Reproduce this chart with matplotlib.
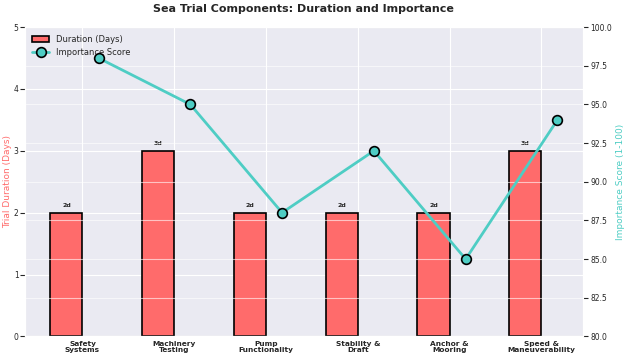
import matplotlib.pyplot as plt
import seaborn as sns
import numpy as np

sns.set_style("darkgrid")

# components and values
components = ['Safety\nSystems', 'Machinery\nTesting', 'Pump\nFunctionality',
              'Stability &\nDraft', 'Anchor &\nMooring', 'Speed &\nManeuverability']
duration = [2, 3, 2, 2, 2, 3]
importance = [98, 95, 88, 92, 85, 94]

x = np.arange(len(components))
width = 0.35

fig, ax1 = plt.subplots(figsize=(6.24, 3.61), dpi=100)
bars = ax1.bar(x - width / 2, duration, width, color='#FF6B6B',
               edgecolor='black', linewidth=1.2, label='Duration (Days)')
for b, d in zip(bars, duration):
    ax1.text(b.get_x() + b.get_width() / 2, d + 0.08, f'{d}d',
             ha='center', va='bottom', fontsize=4.5, fontweight='bold')
ax1.set_ylim(0, 5)
ax1.set_ylabel('Trial Duration (Days)', color='#FF6B6B', fontsize=6.5, labelpad=1)
ax1.set_xticks(x)
ax1.set_xticklabels(components, fontsize=5.3, fontweight='bold', linespacing=1.0)
ax1.tick_params(axis='y', labelsize=5.5, pad=1)
ax1.tick_params(axis='x', pad=0)

ax2 = ax1.twinx()
line, = ax2.plot(x + width / 2, importance, color='#4ECDC4', linewidth=2,
                 marker='o', markersize=7, markeredgecolor='black',
                 markeredgewidth=1.2, label='Importance Score')
ax2.set_ylim(80, 100)
ax2.set_ylabel('Importance Score (1-100)', color='#4ECDC4', fontsize=6.5, labelpad=3)
ax2.tick_params(axis='y', labelsize=5.5, pad=2)
ax2.grid(True, alpha=0.6)

ax1.legend([bars, line], ['Duration (Days)', 'Importance Score'],
           loc='upper left', fontsize=6, frameon=False)
ax1.set_title('Sea Trial Components: Duration and Importance',
              fontsize=8, fontweight='bold', pad=11)

plt.subplots_adjust(left=0.04, right=0.934, top=0.925, bottom=0.068)
plt.savefig('out.png')
